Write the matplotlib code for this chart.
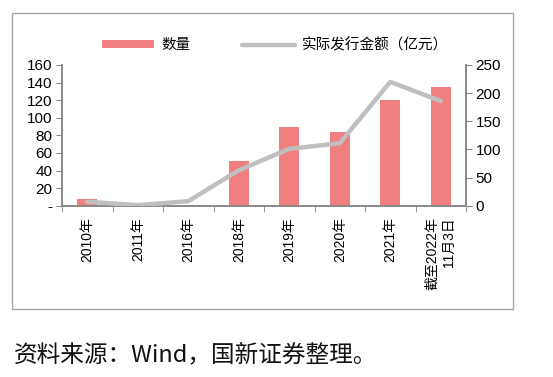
import matplotlib.pyplot as plt
from matplotlib.patches import Rectangle

plt.rcParams['font.family'] = ['Liberation Sans', 'Noto Sans CJK SC', 'DejaVu Sans']

categories = ['2010年', '2011年', '2016年', '2018年', '2019年', '2020年', '2021年', '截至2022年\n11月3日']
counts = [8, 0, 0, 51, 90, 84, 120, 135]
amounts = [7, 1, 8, 63, 101, 111, 220, 186]

bar_color = '#F08080'
line_color = '#BFBFBF'
spine_color = '#898989'

fig = plt.figure(figsize=(5.53, 3.77), dpi=100)

# outer frame
fig.patches.append(Rectangle((12 / 553, 1 - 309 / 377), 501 / 553, 296 / 377,
                             transform=fig.transFigure, fill=False,
                             edgecolor='#A6A6A6', linewidth=1))

ax = fig.add_axes([62 / 553, 1 - 205.7 / 377, (466 - 62) / 553, (205.7 - 65) / 377])
ax2 = ax.twinx()

x = list(range(len(categories)))
bars = ax.bar(x, counts, width=0.4, color=bar_color, label='数量', zorder=2)
line, = ax2.plot(x, amounts, color=line_color, linewidth=3.2, label='实际发行金额（亿元）',
                 solid_capstyle='round', solid_joinstyle='round', zorder=3)

ax.set_xlim(-0.5, len(categories) - 0.5)
ax.set_ylim(0, 160)
ax2.set_ylim(0, 250)
ax.set_yticks(range(0, 161, 20))
ax.set_yticklabels(['-'] + [str(v) for v in range(20, 161, 20)])
ax2.set_yticks(range(0, 251, 50))

ax.set_xticks(x)
ax.set_xticklabels(categories, rotation=90, ha='center', va='top', multialignment='right')
ax.set_xticks([i - 0.5 for i in range(len(categories) + 1)], minor=True)
ax.tick_params(axis='x', which='major', length=0, pad=8, labelsize=10)
ax.tick_params(axis='x', which='minor', length=4, color=spine_color, direction='out')
ax.tick_params(axis='y', length=4, color=spine_color, labelsize=11, pad=3)
ax2.tick_params(axis='y', length=4, color=spine_color, labelsize=11, pad=3)

for a in (ax, ax2):
    a.spines['top'].set_visible(False)
    for s in ('left', 'right', 'bottom'):
        a.spines[s].set_color(spine_color)
        a.spines[s].set_linewidth(1.2)

ax.set_zorder(ax2.get_zorder() - 1)
ax.patch.set_visible(False)

fig.legend([bars, line], ['数量', '实际发行金额（亿元）'], loc='center',
           bbox_to_anchor=(275 / 553, 1 - 45 / 377), ncol=2, frameon=False,
           fontsize=10.5, handlelength=3.6, handleheight=0.5, columnspacing=3.5,
           handletextpad=0.5)

fig.text(14 / 553, 1 - 355 / 377, '资料来源：Wind，国新证券整理。', fontsize=17,
         family=['Noto Sans CJK SC'], va='center', ha='left', color='#111111')

fig.savefig('out.png', dpi=100)
